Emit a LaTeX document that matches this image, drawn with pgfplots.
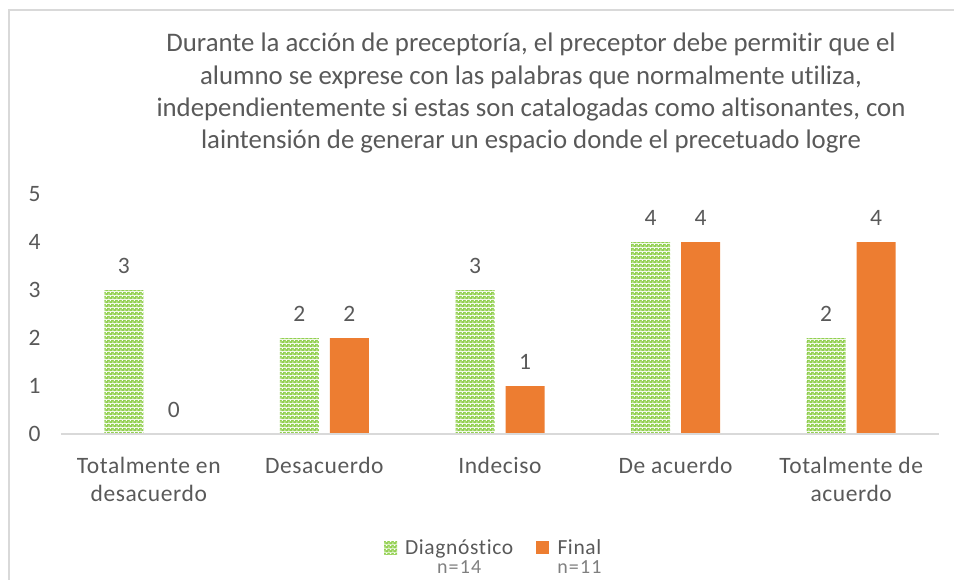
\documentclass[border=0pt]{standalone}
\usepackage{fontspec}
\setmainfont{Carlito}[Ligatures=NoCommon]
\usepackage{pgfplots}
\pgfplotsset{compat=1.18}
\usetikzlibrary{patterns}
\definecolor{xgreen}{HTML}{92D050}
\definecolor{xorange}{HTML}{ED7D31}
\definecolor{xtext}{HTML}{595959}
\definecolor{xlight}{HTML}{7F7F7F}
\definecolor{xgrid}{HTML}{D9D9D9}
\pgfdeclarepatterninherentlycolored{mycheck}{\pgfpointorigin}{\pgfpoint{4pt}{4pt}}{\pgfpoint{4pt}{4pt}}{%
  \pgfsetfillcolor{xgreen}%
  \pgfpathrectangle{\pgfpointorigin}{\pgfpoint{4pt}{4pt}}\pgfusepath{fill}%
  \pgfsetfillcolor{white}%
  \pgfpathrectangle{\pgfpoint{0.35pt}{0.35pt}}{\pgfpoint{1.3pt}{1.3pt}}%
  \pgfpathrectangle{\pgfpoint{2.35pt}{2.35pt}}{\pgfpoint{1.3pt}{1.3pt}}%
  \pgfusepath{fill}}
\newcommand{\lblfont}{\fontsize{23.5}{28}\selectfont\addfontfeatures{LetterSpace=2.5}}
\newcommand{\legfont}{\fontsize{21.5}{25}\selectfont\addfontfeatures{LetterSpace=3}}
\newcommand{\nfont}{\fontsize{20}{22}\selectfont\addfontfeatures{LetterSpace=6}}
\begin{document}
\begin{tikzpicture}
\path[use as bounding box] (0pt,0pt) rectangle (954pt,579pt);
\draw[xgrid, line width=1.5pt] (9pt,-2pt) -- (9pt,569pt) -- (956pt,569pt);
\node[anchor=north, inner sep=0pt, align=center, text=xtext,
  font=\fontsize{26.8}{32.2}\selectfont] at (531pt,546pt)
  {Durante la acción de preceptoría, el preceptor debe permitir que el\\
   alumno se exprese con las palabras que normalmente utiliza,\\
   independientemente si estas son catalogadas como altisonantes, con\\
   laintensión de generar un espacio donde el precetuado logre};
\begin{axis}[
  at={(61pt,145pt)}, anchor=south west,
  scale only axis, width=878pt, height=240pt,
  ybar=11pt, bar width=39pt,
  xmin=-0.5, xmax=4.5, ymin=0, ymax=5,
  xtick={0,1,2,3,4},
  xticklabels={{Totalmente en\\desacuerdo},{Desacuerdo},{Indeciso},{De acuerdo},{Totalmente de\\acuerdo}},
  ytick={0,1,2,3,4,5},
  major tick length=0pt,
  axis line style={draw=none},
  /pgf/number format/assume math mode=true,
  tick label style={text=xtext, font=\lblfont},
  xticklabel style={align=center, yshift=-20pt},
  yticklabel style={anchor=east, xshift=-17pt},
  nodes near coords,
  every node near coord/.append style={text=xtext, font=\lblfont, yshift=13pt},
  legend style={at={(0.493,-0.41)}, anchor=north, draw=none, fill=none,
    font=\legfont, text=xtext,
    cells={anchor=base west},
    /tikz/every even column/.append style={column sep=21pt}},
  legend columns=2,
  legend image code/.code={\path[#1] (0pt,0pt) rectangle (13pt,13pt);},
]
\addplot[pattern=mycheck, draw=none] coordinates {(0,3) (1,2) (2,3) (3,4) (4,2)};
\addlegendentry{\hspace*{6pt}\begin{tabular}[t]{@{}c@{}}Diagnóstico\\[-6pt]{\nfont\color{xlight}n=14}\end{tabular}}
\addplot[fill=xorange, draw=none] coordinates {(0,0) (1,2) (2,1) (3,4) (4,4)};
\addlegendentry{\hspace*{6pt}\begin{tabular}[t]{@{}c@{}}Final\\[-6pt]{\nfont\color{xlight}n=11}\end{tabular}}
\draw[xgrid, line width=1.2pt] (axis cs:-0.5,0) -- (axis cs:4.5,0);
\end{axis}
\end{tikzpicture}
\end{document}
